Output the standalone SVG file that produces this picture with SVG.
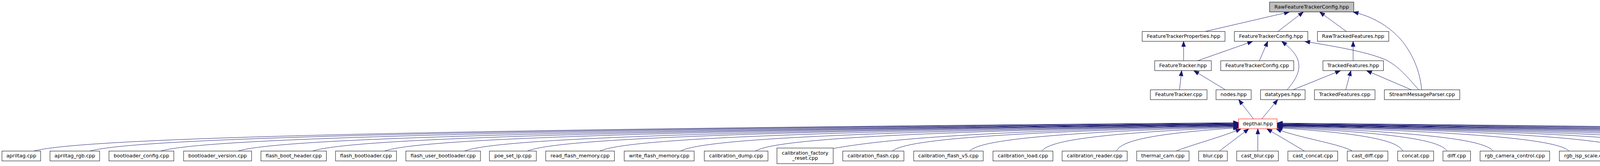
<svg xmlns="http://www.w3.org/2000/svg" width="6208" height="425" viewBox="0 0 6208 425">
<style>
.n rect{fill:#ffffff;stroke:#000000;stroke-width:1}
.cur rect{fill:#bfbfbf}
.trunc rect{stroke:#ff0000}
text{font-family:"DejaVu Sans",sans-serif;font-size:12.8px;text-anchor:middle;fill:#000000}
.e{fill:none;stroke:#191970;stroke-width:1;marker-end:url(#ah)}
</style>
<defs>
<marker id="ah" markerUnits="userSpaceOnUse" markerWidth="14" markerHeight="11" refX="13.3" refY="5" orient="auto" overflow="visible">
<path d="M0,0 L13.3,5 L0,10 z" fill="#191970" stroke="#191970" stroke-width="1"/>
</marker>
</defs>
<rect width="6208" height="425" fill="#ffffff"/>
<g id="edges">
<path class="e" d="M3085,80.6 L3301,30.5"/>
<path class="e" d="M3271.5,80.6 L3336.7,30.5"/>
<path class="e" d="M3446.7,80.6 L3378.3,30.5"/>
<path class="e" d="M3639.5,229.9 C3635,180 3615,135 3585,100 C3550,62 3510,42 3464,30.5"/>
<path class="e" d="M3632,229.9 C3605,200 3580,168 3545,152 C3490,130 3410,118 3340,105.8"/>
<path class="e" d="M3295,229.9 C3310,212 3327,190 3325,165 C3323,140 3300,120 3281,105.8"/>
<path class="e" d="M3030,155.6 L3030,105.8"/>
<path class="e" d="M3065.6,155.6 L3207,105.8"/>
<path class="e" d="M3224,155.6 L3245.5,105.8"/>
<path class="e" d="M3464,155.6 L3464,105.8"/>
<path class="e" d="M3019.6,229.9 L3025,180.8"/>
<path class="e" d="M3137,229.9 L3056,180.8"/>
<path class="e" d="M3310,229.9 L3431.7,180.8"/>
<path class="e" d="M3445,229.9 L3458.3,180.8"/>
<path class="e" d="M3613,229.9 L3498.3,180.8"/>
<path class="e" d="M3209,304.5 L3171,255.1"/>
<path class="e" d="M3230,304.5 L3271,255.1"/>
<path class="e" d="M86,386.8 C209.4,353.9 1011.5,332.1 3171,314"/>
<path class="e" d="M229.6,386.8 C347.3,354.3 1112,332.9 3171,315"/>
<path class="e" d="M411,386.8 C521.4,354.8 1239,333.6 3171,316"/>
<path class="e" d="M609,386.8 C711.5,355.2 1377.6,334.4 3171,317"/>
<path class="e" d="M800,386.8 C894.8,355.5 1511.3,334.75 3171,317.5"/>
<path class="e" d="M984,386.8 C1071.5,355.7 1640.1,335.1 3171,318"/>
<path class="e" d="M1189,386.8 C1268.3,355.9 1783.6,335.5 3171,318.5"/>
<path class="e" d="M1350,386.8 C1422.8,356.1 1896.3,335.9 3171,319"/>
<path class="e" d="M1535.5,386.8 C1600.9,356.6 2026.2,336.6 3171,320"/>
<path class="e" d="M1742,386.8 C1799.2,356.8 2170.7,337 3171,320.5"/>
<path class="e" d="M1933.7,386.8 C1983.2,357 2304.9,337.4 3171,321"/>
<path class="e" d="M2133.5,380 C2250,360 2445.5,336.5 3171,322"/>
<path class="e" d="M2284,386.8 C2319.5,357.9 2550.1,338.9 3171,323"/>
<path class="e" d="M2482,386.8 C2509.6,358.4 2688.7,339.6 3171,324"/>
<path class="e" d="M2667,386.8 C2687.2,359 2818.2,340.75 3171,325.5"/>
<path class="e" d="M2858,386.8 C2870.5,359.7 2951.9,341.9 3171,327"/>
<path class="e" d="M3011,386.8 C3040,374 3130,350 3177,329.7"/>
<path class="e" d="M3121.6,386.8 L3197,329.7"/>
<path class="e" d="M3220,386.8 L3220,329.7"/>
<path class="e" d="M3339.6,386.8 L3243,329.7"/>
<path class="e" d="M3462,386.8 C3430,368 3320,352 3267,329.7"/>
<path class="e" d="M3591,386.8 C3578.1,359.7 3494.5,341.9 3269.5,327"/>
<path class="e" d="M3704.7,386.8 C3687.3,359 3574.1,340.75 3269.5,325.5"/>
<path class="e" d="M3822.6,386.8 C3800.5,358.4 3656.7,339.6 3269.5,324"/>
<path class="e" d="M4017,386.8 C3987.1,357.9 3792.7,338.9 3269.5,323"/>
<path class="e" d="M4178.5,386.8 C4142.1,357.5 3905.8,338.1 3269.5,322"/>
<path class="e" d="M4327.7,386.8 C4285.4,357.25 4010.2,337.75 3269.5,321.5"/>
<path class="e" d="M4468.7,386.8 C4420.7,357 4108.9,337.4 3269.5,321"/>
<path class="e" d="M4627,386.8 C4572.7,356.8 4219.7,337 3269.5,320.5"/>
<path class="e" d="M4797,386.8 C4735.9,356.6 4338.7,336.6 3269.5,320"/>
<path class="e" d="M4975.7,386.8 C4907.5,356.35 4463.8,336.25 3269.5,319.5"/>
<path class="e" d="M5154,386.8 C5078.6,356.1 4588.6,335.9 3269.5,319"/>
<path class="e" d="M5345.6,386.8 C5262.6,355.9 4722.8,335.5 3269.5,318.5"/>
<path class="e" d="M5525.7,386.8 C5435.5,355.7 4848.8,335.1 3269.5,318"/>
<path class="e" d="M5726.5,386.8 C5628.2,355.2 4989.4,334.4 3269.5,317"/>
<path class="e" d="M5909,386.8 C5803.4,354.8 5117.1,333.6 3269.5,316"/>
<path class="e" d="M6103.6,386.8 C5990.2,354.3 5253.4,332.9 3269.5,315"/>
</g>
<g id="node-RawFeatureTrackerConfig_hpp" class="n cur"><rect x="3250" y="5.3" width="215.7" height="25.2"/><text x="3357.85" y="21.8">RawFeatureTrackerConfig.hpp</text></g>
<g id="node-FeatureTrackerProperties_hpp" class="n"><rect x="2924" y="80.6" width="212" height="25.2"/><text x="3030" y="97.1">FeatureTrackerProperties.hpp</text></g>
<g id="node-FeatureTrackerConfig_hpp" class="n"><rect x="3160" y="80.6" width="188" height="25.2"/><text x="3254" y="97.1">FeatureTrackerConfig.hpp</text></g>
<g id="node-RawTrackedFeatures_hpp" class="n"><rect x="3372.7" y="80.6" width="182.6" height="25.2"/><text x="3464" y="97.1">RawTrackedFeatures.hpp</text></g>
<g id="node-FeatureTracker_hpp" class="n"><rect x="2956" y="155.6" width="145" height="25.2"/><text x="3028.5" y="172.1">FeatureTracker.hpp</text></g>
<g id="node-FeatureTrackerConfig_cpp" class="n"><rect x="3125" y="155.6" width="187" height="25.2"/><text x="3218.5" y="172.1">FeatureTrackerConfig.cpp</text></g>
<g id="node-TrackedFeatures_hpp" class="n"><rect x="3386.7" y="155.6" width="155" height="25.2"/><text x="3464.2" y="172.1">TrackedFeatures.hpp</text></g>
<g id="node-FeatureTracker_cpp" class="n"><rect x="2945" y="229.9" width="145" height="25.2"/><text x="3017.5" y="246.4">FeatureTracker.cpp</text></g>
<g id="node-nodes_hpp" class="n"><rect x="3113" y="229.9" width="90" height="25.2"/><text x="3158" y="246.4">nodes.hpp</text></g>
<g id="node-datatypes_hpp" class="n"><rect x="3227" y="229.9" width="114" height="25.2"/><text x="3284" y="246.4">datatypes.hpp</text></g>
<g id="node-TrackedFeatures_cpp" class="n"><rect x="3365" y="229.9" width="155" height="25.2"/><text x="3442.5" y="246.4">TrackedFeatures.cpp</text></g>
<g id="node-StreamMessageParser_cpp" class="n"><rect x="3544" y="229.9" width="193" height="25.2"/><text x="3640.5" y="246.4">StreamMessageParser.cpp</text></g>
<g id="node-depthai_hpp" class="n trunc"><rect x="3170.7" y="304.5" width="98.6" height="25.2"/><text x="3220" y="321">depthai.hpp</text></g>
<g id="node-apriltag_cpp" class="n"><rect x="5" y="386.8" width="99" height="25.2"/><text x="54.5" y="403.3">apriltag.cpp</text></g>
<g id="node-apriltag_rgb_cpp" class="n"><rect x="128" y="386.8" width="127" height="25.2"/><text x="191.5" y="403.3">apriltag_rgb.cpp</text></g>
<g id="node-bootloader_config_cpp" class="n"><rect x="279" y="386.8" width="166" height="25.2"/><text x="362" y="403.3">bootloader_config.cpp</text></g>
<g id="node-bootloader_version_cpp" class="n"><rect x="470" y="386.8" width="174" height="25.2"/><text x="557" y="403.3">bootloader_version.cpp</text></g>
<g id="node-flash_boot_header_cpp" class="n"><rect x="668" y="386.8" width="167.5" height="25.2"/><text x="751.75" y="403.3">flash_boot_header.cpp</text></g>
<g id="node-flash_bootloader_cpp" class="n"><rect x="859" y="386.8" width="156" height="25.2"/><text x="937" y="403.3">flash_bootloader.cpp</text></g>
<g id="node-flash_user_bootloader_cpp" class="n"><rect x="1039" y="386.8" width="191" height="25.2"/><text x="1134.5" y="403.3">flash_user_bootloader.cpp</text></g>
<g id="node-poe_set_ip_cpp" class="n"><rect x="1253" y="386.8" width="120" height="25.2"/><text x="1313" y="403.3">poe_set_ip.cpp</text></g>
<g id="node-read_flash_memory_cpp" class="n"><rect x="1397" y="386.8" width="176" height="25.2"/><text x="1485" y="403.3">read_flash_memory.cpp</text></g>
<g id="node-write_flash_memory_cpp" class="n"><rect x="1598" y="386.8" width="179" height="25.2"/><text x="1687.5" y="403.3">write_flash_memory.cpp</text></g>
<g id="node-calibration_dump_cpp" class="n"><rect x="1803" y="386.8" width="163" height="25.2"/><text x="1884.5" y="403.3">calibration_dump.cpp</text></g>
<g id="node-calibration_factory_reset_cpp" class="n"><rect x="1989" y="379" width="144" height="40"/><text x="2061" y="396">calibration_factory</text><text x="2061" y="409.3">_reset.cpp</text></g>
<g id="node-calibration_flash_cpp" class="n"><rect x="2157.5" y="386.8" width="156.5" height="25.2"/><text x="2235.75" y="403.3">calibration_flash.cpp</text></g>
<g id="node-calibration_flash_v5_cpp" class="n"><rect x="2339" y="386.8" width="178" height="25.2"/><text x="2428" y="403.3">calibration_flash_v5.cpp</text></g>
<g id="node-calibration_load_cpp" class="n"><rect x="2542" y="386.8" width="153.5" height="25.2"/><text x="2618.75" y="403.3">calibration_load.cpp</text></g>
<g id="node-calibration_reader_cpp" class="n"><rect x="2719" y="386.8" width="166.6" height="25.2"/><text x="2802.3" y="403.3">calibration_reader.cpp</text></g>
<g id="node-thermal_cam_cpp" class="n"><rect x="2910" y="386.8" width="134" height="25.2"/><text x="2977" y="403.3">thermal_cam.cpp</text></g>
<g id="node-blur_cpp" class="n"><rect x="3068.6" y="386.8" width="73.4" height="25.2"/><text x="3105.3" y="403.3">blur.cpp</text></g>
<g id="node-cast_blur_cpp" class="n"><rect x="3166" y="386.8" width="106.7" height="25.2"/><text x="3219.35" y="403.3">cast_blur.cpp</text></g>
<g id="node-cast_concat_cpp" class="n"><rect x="3297" y="386.8" width="127.5" height="25.2"/><text x="3360.75" y="403.3">cast_concat.cpp</text></g>
<g id="node-cast_diff_cpp" class="n"><rect x="3449" y="386.8" width="104" height="25.2"/><text x="3501" y="403.3">cast_diff.cpp</text></g>
<g id="node-concat_cpp" class="n"><rect x="3578" y="386.8" width="92" height="25.2"/><text x="3624" y="403.3">concat.cpp</text></g>
<g id="node-diff_cpp" class="n"><rect x="3694" y="386.8" width="70.6" height="25.2"/><text x="3729.3" y="403.3">diff.cpp</text></g>
<g id="node-rgb_camera_control_cpp" class="n"><rect x="3789" y="386.8" width="178" height="25.2"/><text x="3878" y="403.3">rgb_camera_control.cpp</text></g>
<g id="node-rgb_isp_scale_cpp" class="n"><rect x="3992" y="386.8" width="137" height="25.2"/><text x="4060.5" y="403.3">rgb_isp_scale.cpp</text></g>
<g id="node-rgb_preview_cpp" class="n"><rect x="4154" y="386.8" width="128" height="25.2"/><text x="4218" y="403.3">rgb_preview.cpp</text></g>
<g id="node-rgb_video_cpp" class="n"><rect x="4306" y="386.8" width="114" height="25.2"/><text x="4363" y="403.3">rgb_video.cpp</text></g>
<g id="node-crash_report_cpp" class="n"><rect x="4445" y="386.8" width="131" height="25.2"/><text x="4510.5" y="403.3">crash_report.cpp</text></g>
<g id="node-edge_detector_cpp" class="n"><rect x="4599" y="386.8" width="142" height="25.2"/><text x="4670" y="403.3">edge_detector.cpp</text></g>
<g id="node-feature_detector_cpp" class="n"><rect x="4766" y="386.8" width="155.5" height="25.2"/><text x="4843.75" y="403.3">feature_detector.cpp</text></g>
<g id="node-feature_tracker_cpp" class="n"><rect x="4946" y="386.8" width="147" height="25.2"/><text x="5019.5" y="403.3">feature_tracker.cpp</text></g>
<g id="node-device_information_cpp" class="n"><rect x="5118" y="386.8" width="175" height="25.2"/><text x="5205.5" y="403.3">device_information.cpp</text></g>
<g id="node-device_logging_cpp" class="n"><rect x="5317" y="386.8" width="146.5" height="25.2"/><text x="5390.25" y="403.3">device_logging.cpp</text></g>
<g id="node-device_queue_event_cpp" class="n"><rect x="5488" y="386.8" width="183.6" height="25.2"/><text x="5579.8" y="403.3">device_queue_event.cpp</text></g>
<g id="node-opencv_support_cpp" class="n"><rect x="5695.6" y="386.8" width="152.4" height="25.2"/><text x="5771.8" y="403.3">opencv_support.cpp</text></g>
<g id="node-queue_add_callback_cpp" class="n"><rect x="5871" y="386.8" width="182" height="25.2"/><text x="5962" y="403.3">queue_add_callback.cpp</text></g>
<g id="node-depth_align_cpp" class="n"><rect x="6076.6" y="386.8" width="126.4" height="25.2"/><text x="6139.8" y="403.3">depth_align.cpp</text></g>
</svg>
